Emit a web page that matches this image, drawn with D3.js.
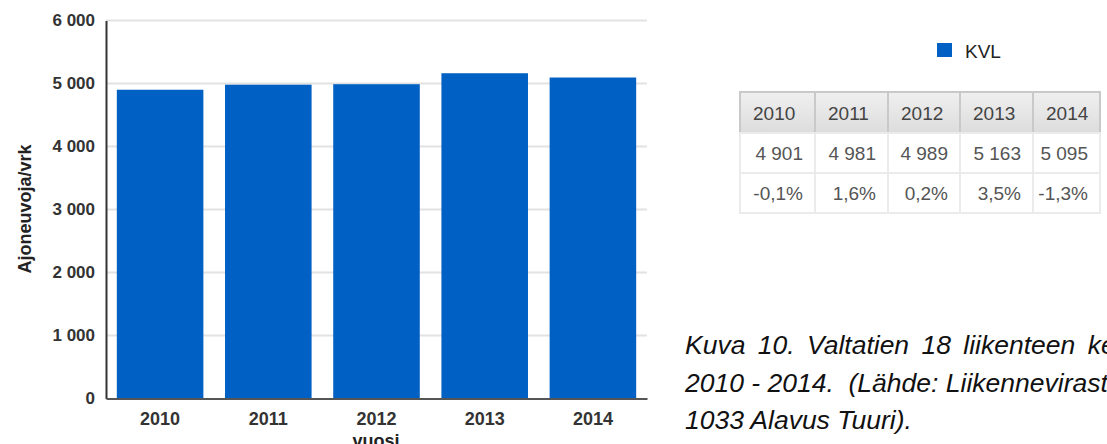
<!DOCTYPE html>
<html>
<head>
<meta charset="utf-8">
<script src="https://cdn.jsdelivr.net/npm/d3@7"></script>
<style>
  html, body { margin: 0; padding: 0; background: #fff; overflow: hidden; }
  svg { display: block; font-family: Arial, "Liberation Sans", sans-serif; }
</style>
</head>
<body>
<svg id="chart" width="1107" height="444"></svg>
<script>
// data
var years = ["2010", "2011", "2012", "2013", "2014"];
var kvl = [4901, 4981, 4989, 5163, 5095];
var change = [-0.1, 1.6, 0.2, 3.5, -1.3];
var yTicks = [0, 1000, 2000, 3000, 4000, 5000, 6000];
var seriesName = "KVL";
var yTitle = "Ajoneuvoja/vrk";
var xTitle = "vuosi";
var caption = [
    "Kuva 10. Valtatien 18 liikenteen kehitys",
    "2010 - 2014.  (Lähde: Liikennevirasto,",
    "1033 Alavus Tuuri)."
];

var fi = d3.formatLocale({decimal: ",", thousands: " ", grouping: [3], currency: ["", " €"], minus: "-"});
var fmtInt = fi.format(",d");
var fmtPct = function(v){ return fi.format(".1f")(v) + "%"; };

var blue = "#0060c4";
var svg = d3.select("#chart");

var x = d3.scaleBand().domain(years).range([106, 647]).paddingInner(0.2).paddingOuter(0.1);
var y = d3.scaleLinear().domain([0, 6000]).range([398.5, 20.5]);

// gridlines
svg.append("g").selectAll("line")
    .data(yTicks.filter(function(d){ return d > 0; }))
    .enter().append("line")
    .attr("x1", 106).attr("x2", 647)
    .attr("y1", function(d){ return y(d); })
    .attr("y2", function(d){ return y(d); })
    .attr("stroke", "#e2e2e2")
    .attr("stroke-width", 2);

// bars
svg.append("g").selectAll("rect")
    .data(kvl)
    .enter().append("rect")
    .attr("x", function(d, i){ return x(years[i]); })
    .attr("width", x.bandwidth())
    .attr("y", function(d){ return y(d); })
    .attr("height", function(d){ return y(0) - y(d); })
    .attr("fill", blue);

// axes
var yAxis = svg.append("g")
    .attr("transform", "translate(106,0)")
    .call(d3.axisLeft(y).tickValues(yTicks).tickSize(0).tickPadding(11).tickFormat(fmtInt));
yAxis.select(".domain").attr("stroke", "#333").attr("stroke-width", 2);
yAxis.selectAll("text")
    .attr("font-size", 17).attr("font-weight", "bold").attr("fill", "#333")
    .attr("font-family", "Arial, 'Liberation Sans', sans-serif");

var xAxis = svg.append("g")
    .attr("transform", "translate(0," + y(0) + ")")
    .call(d3.axisBottom(x).tickSize(0).tickPadding(14));
xAxis.select(".domain").attr("stroke", "#555").attr("stroke-width", 2);
xAxis.selectAll("text")
    .attr("font-size", 18).attr("font-weight", "bold").attr("fill", "#333")
    .attr("font-family", "Arial, 'Liberation Sans', sans-serif");

// axis titles
svg.append("text")
    .attr("transform", "translate(31,209) rotate(-90)")
    .attr("text-anchor", "middle")
    .attr("font-size", 18).attr("font-weight", "bold").attr("fill", "#222")
    .text(yTitle);

svg.append("text")
    .attr("x", 376).attr("y", 447)
    .attr("text-anchor", "middle")
    .attr("font-size", 18).attr("font-weight", "bold").attr("fill", "#222")
    .text(xTitle);

// legend
svg.append("rect").attr("x", 937).attr("y", 43).attr("width", 15).attr("height", 14).attr("fill", blue);
svg.append("text").attr("x", 965).attr("y", 58)
    .attr("font-size", 19).attr("fill", "#222").text(seriesName);

// table
var colX = [740, 815, 888, 960, 1033, 1100];
var rowY = [92, 133, 173, 213];
var table = svg.append("g");

var grad = svg.append("defs").append("linearGradient")
    .attr("id", "hdr").attr("x1", 0).attr("y1", 0).attr("x2", 0).attr("y2", 1);
grad.append("stop").attr("offset", "0%").attr("stop-color", "#f0f0f0");
grad.append("stop").attr("offset", "100%").attr("stop-color", "#dcdcdc");

var rows = [
    years.map(function(d){ return {t: d, head: true}; }),
    kvl.map(function(d){ return {t: fmtInt(d)}; }),
    change.map(function(d){ return {t: fmtPct(d)}; })
];

rows.forEach(function(row, r){
    var g = table.append("g");
    g.selectAll("rect").data(row).enter().append("rect")
        .attr("x", function(d, i){ return colX[i]; })
        .attr("y", rowY[r])
        .attr("width", function(d, i){ return colX[i + 1] - colX[i]; })
        .attr("height", rowY[r + 1] - rowY[r])
        .attr("fill", function(d){ return d.head ? "url(#hdr)" : "#fff"; })
        .attr("stroke", function(d){ return d.head ? "#c9c9c9" : "#ebebeb"; })
        .attr("stroke-width", 2);
    g.selectAll("text").data(row).enter().append("text")
        .attr("x", function(d, i){ return d.head ? colX[i] + 13 : colX[i + 1] - 12; })
        .attr("y", (rowY[r] + rowY[r + 1]) / 2 + 7)
        .attr("text-anchor", function(d){ return d.head ? "start" : "end"; })
        .attr("font-size", 19)
        .attr("fill", function(d){ return d.head ? "#444" : "#555"; })
        .text(function(d){ return d.t; });
});

// caption (runs past the right edge, as in the source page)
var capBase = [354, 392, 429];
svg.append("g").selectAll("text")
    .data(caption)
    .enter().append("text")
    .attr("x", 685)
    .attr("y", function(d, i){ return capBase[i]; })
    .attr("font-size", 26.5)
    .attr("font-style", "italic")
    .attr("fill", "#111")
    .attr("word-spacing", function(d, i){ return i === 0 ? 5 : 0; })
    .style("white-space", "pre")
    .text(function(d){ return d; });
</script>
</body>
</html>
